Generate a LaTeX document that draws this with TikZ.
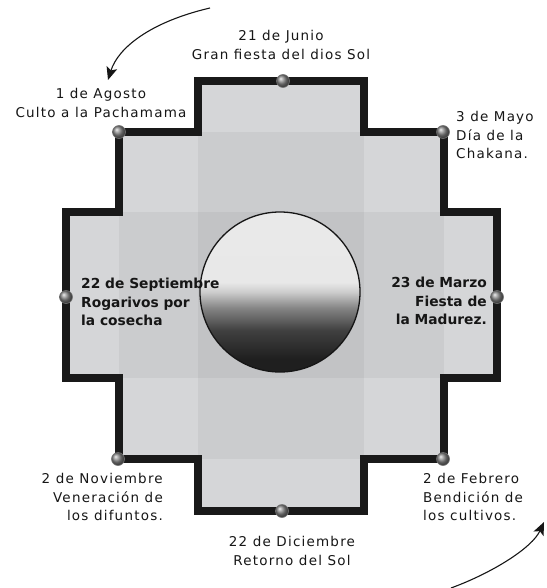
\documentclass[tikz,border=0pt]{standalone}
\usepackage{fontspec}
\setmainfont{DejaVu Sans}
\newfontfamily\outerfont[LetterSpace=9]{DejaVu Sans}
\newfontfamily\innerfont{DejaVu Sans}
\usetikzlibrary{arrows.meta}
\definecolor{ink}{HTML}{161616}
\definecolor{tile}{HTML}{DFE0E2}
\definecolor{dotgray}{HTML}{858585}
\pgfdeclareverticalshading{sunshade}{100bp}{color(0bp)=(black!88); color(29bp)=(black!88); color(38bp)=(black!75); color(45bp)=(black!48); color(50bp)=(black!20); color(53bp)=(black!9); color(100bp)=(black!8)}
\newcommand\chakanapath{(198,81) -- (364,81) -- (364,132) -- (444,132) -- (444,212) -- (497,212) -- (497,378) -- (444,378) -- (444,459) -- (364,459) -- (364,511) -- (198,511) -- (198,459) -- (119,459) -- (119,378) -- (66,378) -- (66,212) -- (119,212) -- (119,132) -- (198,132) -- cycle}

\begin{document}
\begin{tikzpicture}[x=1pt,y=-1pt,
  dot/.style={circle,minimum size=13pt,inner sep=0pt,shading=ball,ball color=dotgray,draw=black!55,line width=0.6pt},
  outer/.style={align=center,inner sep=0pt,text=ink,font=\outerfont\fontsize{13.5}{18.3}\selectfont},
  inner/.style={inner sep=0pt,text=ink,font=\innerfont\bfseries\fontsize{13.8}{18.3}\selectfont},
  band/.style={fill=black,fill opacity=0.045},
  sun/.style={circle,draw=ink,line width=1.3pt,minimum size=160pt,inner sep=0pt,shading=sunshade},
  arr/.style={-{Stealth[length=13pt,width=11pt,inset=3pt]},line width=1.1pt,ink}]
\useasboundingbox (0,0) rectangle (546,588);
\fill[tile] \chakanapath;
\foreach \xa/\ya/\xb/\yb in {198/81/364/511,119/132/444/459,66/212/497/378}
{
  \fill[band] (\xa,\ya) rectangle (\xb,\yb);
}
\draw[line width=8.5pt,black!90] \chakanapath;
\node[sun] (sol) at (280,292) {};
\foreach \x/\y/\id in {283/81/jun,119/132/ago,443/132/may,66/297/sep,497/297/mar,118/459/nov,443/459/feb,282/511/dic}
{
  \node[dot] (d\id) at (\x,\y) {};
}
\node[outer] (ljun) at (281,45) {21 de Junio\\Gran fiesta del dios Sol};
\node[outer] (lago) at (101,103) {1 de Agosto\\Culto a la Pachamama};
\node[outer,align=left,anchor=west] (lmay) at (456,135) {3 de Mayo\\Día de la\\Chakana.};
\node[inner,align=left,anchor=west] (lsep) at (81,302) {22 de Septiembre\\Rogarivos por\\la cosecha};
\node[inner,align=right,anchor=east] (lmar) at (487,301) {23 de Marzo\\Fiesta de\\la Madurez.};
\node[outer,align=right,anchor=east] (lnov) at (163,497) {2 de Noviembre\\Veneración de\\los difuntos.};
\node[outer,align=left,anchor=west] (lfeb) at (423,497) {2 de Febrero\\Bendición de\\los cultivos.};
\node[outer] (ldic) at (292,551) {22 de Diciembre\\Retorno del Sol};
\coordinate (a1) at (210,8);
\coordinate (a2) at (108,80);
\coordinate (b1) at (451,588);
\coordinate (b2) at (544,522);
\draw[arr] (a1) .. controls (150,22) and (118,48) .. (a2);
\draw[arr] (b1) .. controls (492,573) and (532,548) .. (b2);
\end{tikzpicture}
\end{document}
